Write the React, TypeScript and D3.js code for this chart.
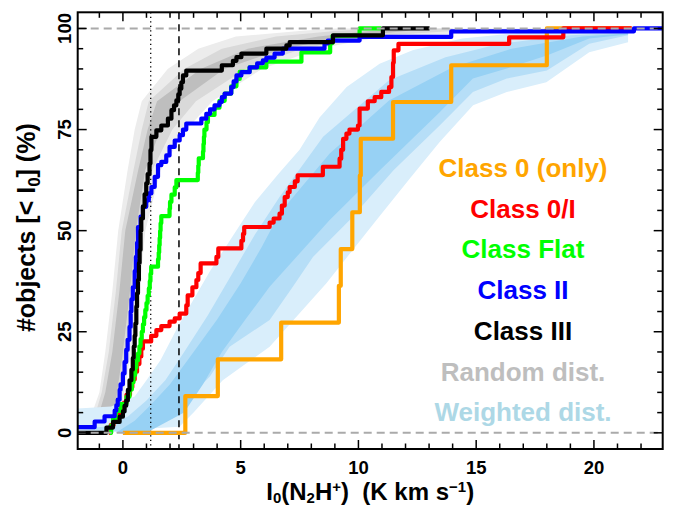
import React from 'react';
import * as d3 from 'd3';

const W = 676;
const H = 506;
const FONT = "'Liberation Sans', Arial, Helvetica, sans-serif";

// ---------- axes ----------
const xDomain = [-1.92, 22.92];
const yDomain = [-4, 104];
const xTickLabels = [0, 5, 10, 15, 20];
const yTickLabels = [0, 25, 50, 75, 100];
const xMinorTicks = d3.range(-1, 23, 1);
const yMinorTicks = d3.range(0, 101, 5);
const refLinesX = [1.18, 2.38]; // dotted, dashed
const refLinesY = [0, 100];

// ---------- cumulative curves (x = I0, y = % of objects) ----------
const class0X = [0, 2.65, 4.03, 6.72, 9.17, 9.25, 9.74, 10.06, 10.1, 11.47, 13.94, 18.0, 21.6];
const class0Y = [0, 9.09, 18.18, 27.27, 36.36, 45.45, 54.55, 63.64, 72.73, 81.82, 90.91, 100, 100];

const class0IX = [-0.6, -0.52, -0.4, -0.15, 0.05, 0.15, 0.3, 0.4, 0.5, 0.6, 0.7, 0.78, 0.85, 1.2, 1.42, 1.63, 1.98, 2.2, 2.41, 2.69, 2.75, 2.95, 3.12, 3.2, 3.3, 3.97, 4.05, 5.03, 5.1, 5.15, 6.23, 6.4, 6.65, 6.75, 6.87, 7.0, 7.08, 7.3, 7.42, 8.49, 9.2, 9.27, 9.35, 9.49, 9.62, 9.98, 10.05, 10.4, 10.69, 10.97, 11.3, 11.4, 11.47, 11.5, 11.7, 16.4, 18.7, 21.6];
const class0IY = [0, 1.9, 3.8, 5.7, 7.5, 9.4, 11.3, 13.2, 15.1, 17.0, 18.9, 20.8, 22.6, 24.0, 25.4, 26.4, 27.5, 28.3, 29.5, 31.5, 34.0, 36.0, 37.8, 39.5, 41.9, 43.5, 45.6, 47.5, 49.2, 50.9, 52.0, 53.0, 54.2, 56.2, 58.3, 59.5, 60.8, 62.2, 63.7, 65.8, 67.8, 70.0, 72.7, 74.0, 75.0, 76.0, 80.2, 82.0, 83.0, 84.3, 85.5, 88.0, 91.5, 94.6, 96.2, 97.8, 100, 100];

const classFlatX = [-0.56, -0.5, -0.42, -0.3, -0.1, 0.15, 0.28, 0.38, 0.45, 0.52, 0.57, 0.64, 0.7, 0.75, 0.8, 0.85, 0.9, 0.95, 1.0, 1.05, 1.1, 1.14, 1.17, 1.2, 1.49, 1.52, 1.54, 1.56, 1.58, 1.6, 1.63, 1.98, 2.0, 2.06, 2.2, 2.27, 3.18, 3.2, 3.22, 3.4, 3.42, 3.44, 3.46, 3.55, 3.61, 3.89, 4.1, 4.32, 4.6, 4.82, 4.96, 5.38, 6.09, 7.58, 8.8, 8.9, 10.05, 10.97];
const classFlatY = [0, 1.8, 3.6, 5.4, 7.1, 8.9, 10.7, 12.5, 14.3, 16.1, 17.9, 19.6, 21.4, 23.2, 25.0, 26.8, 28.6, 30.4, 32.1, 33.9, 35.7, 37.5, 39.3, 41.1, 42.9, 44.6, 46.4, 48.2, 50.0, 51.8, 53.6, 55.4, 57.1, 58.9, 60.7, 62.5, 64.3, 66.1, 67.9, 69.6, 71.4, 73.2, 75.0, 76.8, 78.6, 80.4, 82.1, 83.9, 85.7, 87.5, 89.3, 90.4, 91.8, 94.1, 96.4, 98.2, 100, 100];

const classIIX = [-1.92, -1.2, -0.78, -0.35, -0.28, -0.22, -0.14, -0.1, 0.0, 0.07, 0.14, 0.2, 0.28, 0.33, 0.36, 0.42, 0.5, 0.55, 0.6, 0.64, 0.75, 0.85, 0.99, 1.1, 1.21, 1.35, 1.49, 1.63, 1.84, 1.98, 2.2, 2.41, 2.55, 2.69, 3.33, 3.54, 3.7, 3.89, 4.1, 4.2, 4.32, 4.6, 4.7, 4.82, 5.03, 5.38, 5.7, 5.94, 6.09, 6.44, 6.79, 8.56, 8.7, 10.05, 13.94, 21.7, 22.92];
const classIIY = [1.4, 2.8, 4.1, 5.5, 6.8, 8.2, 10.6, 12.0, 14.7, 17.5, 20.5, 23.0, 26.2, 30.0, 33.0, 36.0, 40.0, 43.5, 47.0, 50.9, 53.5, 55.9, 57.5, 59.2, 60.8, 63.3, 66.2, 67.0, 68.6, 70.7, 72.3, 73.6, 75.0, 76.5, 77.7, 78.9, 80.0, 81.0, 81.8, 83.0, 83.9, 85.5, 86.9, 88.4, 89.2, 90.4, 91.4, 92.1, 92.8, 93.8, 95.0, 96.3, 97.0, 97.9, 99.3, 100, 100];

const classIIIX = [-1.92, -0.7, -0.42, -0.14, 0.0, 0.07, 0.14, 0.21, 0.28, 0.36, 0.42, 0.46, 0.5, 0.53, 0.57, 0.6, 0.64, 0.68, 0.71, 0.75, 0.78, 0.85, 0.92, 0.99, 1.05, 1.13, 1.17, 1.21, 1.42, 1.63, 1.91, 2.06, 2.17, 2.27, 2.35, 2.41, 2.48, 2.55, 2.69, 4.2, 4.67, 4.82, 5.03, 6.09, 6.94, 7.08, 8.92, 11.04, 13.02];
const classIIIY = [0, 1.3, 2.7, 4.0, 5.3, 6.7, 8.0, 10.6, 13.0, 15.6, 18.5, 21.3, 24.0, 27.0, 31.2, 34.5, 37.8, 42.0, 45.2, 50.0, 53.0, 56.0, 59.0, 61.7, 64.0, 66.6, 69.9, 73.2, 74.8, 76.0, 77.7, 79.8, 81.0, 82.2, 83.7, 85.1, 86.7, 88.4, 89.6, 90.9, 92.0, 92.9, 93.8, 95.0, 95.8, 96.6, 98.3, 100, 100];

// ---------- random distribution envelopes (gray) ----------
const randLevels = [0, 5, 10, 20, 35, 50, 65, 75, 82, 90, 95, 98, 99.4, 100];
const randLightUpper = [-1.92, -1.3, -1.0, -0.75, -0.45, -0.2, 0.2, 0.5, 0.8, 1.9, 3.2, 4.8, 7.5, 9.0];
const randMidUpper = [-1.92, -1.15, -0.9, -0.6, -0.3, -0.05, 0.45, 0.8, 1.1, 2.6, 4.2, 6.5, 9.0, 11.0];
const randDarkUpper = [-1.92, -1.0, -0.75, -0.45, -0.15, 0.1, 0.65, 1.05, 1.45, 3.3, 5.3, 8.3, 10.5, 12.0];
const randDarkLower = [-0.7, -0.35, -0.25, 0.0, 0.3, 0.55, 0.95, 1.6, 2.4, 4.3, 6.8, 9.6, 12.0, 12.5];
const randMidLower = [-0.55, -0.2, -0.1, 0.15, 0.5, 0.75, 1.25, 2.1, 3.1, 5.2, 7.6, 10.4, 14.0, 14.0];
const randLightLower = [-0.4, -0.05, 0.05, 0.35, 0.7, 0.95, 1.6, 2.7, 3.8, 5.9, 8.3, 11.0, 18.0, 18.0];

// ---------- weighted distribution envelopes (blue) ----------
const wLightUpperX = [-1.92, -1.92, -0.5, 0.5, 1.0, 1.6, 2.4, 3.0, 3.7, 4.7, 5.6, 6.6, 7.5, 8.35, 9.5, 10.9, 12.3, 14.4, 17.0, 21.45];
const wLightUpperY = [0, 6, 6.5, 9, 13, 18, 27, 33, 40, 49, 57, 64, 70, 78, 85.5, 91.3, 94.6, 97.5, 99.0, 99.5];
const wLightLowerX = [-1.92, 2.4, 3.0, 4.24, 5.2, 6.23, 8.64, 10.76, 12.2, 13.45, 14.87, 16.3, 17.98, 19.8, 21.45];
const wLightLowerY = [0, 1.5, 5, 13, 17, 21.3, 37, 52.6, 63, 71.9, 81, 84.3, 86.7, 94.1, 96.6];
const wMidUpperX = [-1.92, -0.8, 0.2, 1.0, 1.8, 2.6, 3.6, 4.6, 5.6, 6.65, 8.5, 11.3, 13.7, 16.0, 19.0, 21.45];
const wMidUpperY = [1, 1.5, 4, 8, 13, 20, 29, 39, 49, 58.3, 73.2, 87.2, 92.9, 96.2, 98.3, 99.0];
const wMidLowerX = [0.3, 2.2, 3.7, 4.53, 6.23, 7.2, 8.07, 9.62, 11.5, 13.45, 14.86, 16.3, 18.0, 19.8, 21.45];
const wMidLowerY = [0, 5, 14, 21.3, 27.9, 36, 43.5, 52.6, 65, 76, 84.3, 87.6, 89.6, 96.2, 98.3];
const wDarkUpperX = [-0.3, 0.5, 1.2, 2.0, 3.0, 4.0, 5.0, 5.9, 6.65, 8.78, 11.3, 14.0, 16.5, 19.5, 21.45];
const wDarkUpperY = [0, 3, 7, 12, 20, 28, 37, 46, 54.3, 69.1, 82.2, 90.4, 95.0, 98.0, 98.8];
const wDarkLowerX = [1.0, 2.6, 3.4, 4.2, 5.2, 6.23, 8.77, 10.9, 13.45, 14.86, 16.3, 18.0, 19.8, 21.45];
const wDarkLowerY = [0, 5, 12, 20, 28, 36.1, 52.6, 64.9, 79.3, 87.6, 90.1, 93.3, 97.5, 98.5];

// ---------- legend ----------
const legendLabels = ['Class 0 (only)', 'Class 0/I', 'Class Flat', 'Class II', 'Class III', 'Random dist.', 'Weighted dist.'];
const legendColors = ['#FFA500', '#FF0000', '#00FF00', '#0000FF', '#000000', '#BEBEBE', '#ADD8E6'];

const curveColors = ['#FFA500', '#FF0000', '#00FF00', '#0000FF', '#000000'];
const grayFills = ['#ececec', '#d9d9d9', '#bebebe'];
const blueFills = ['#d9eefb', '#b6def7', '#97d1f4'];

const zip = (xs: number[], ys: number[]): [number, number][] => xs.map((v, i) => [v, ys[i]]);

export default function App() {
  const left = 77.7, right = 662.7, top = 12.3, bottom = 449;
  const x = d3.scaleLinear().domain(xDomain).range([left, right]);
  const y = d3.scaleLinear().domain(yDomain).range([bottom, top]);

  const stepLine = d3.line<[number, number]>().x(d => x(d[0])).y(d => y(d[1])).curve(d3.curveStepAfter);
  const polyLine = d3.line<[number, number]>().x(d => x(d[0])).y(d => y(d[1]));
  const band = (upper: [number, number][], lower: [number, number][]) =>
    (polyLine(upper.concat(lower.slice().reverse())) || '') + 'Z';

  const grayBands = [
    band(zip(randLightUpper, randLevels), zip(randLightLower, randLevels)),
    band(zip(randMidUpper, randLevels), zip(randMidLower, randLevels)),
    band(zip(randDarkUpper, randLevels), zip(randDarkLower, randLevels)),
  ];
  const blueBands = [
    band(zip(wLightUpperX, wLightUpperY), zip(wLightLowerX, wLightLowerY)),
    band(zip(wMidUpperX, wMidUpperY), zip(wMidLowerX, wMidLowerY)),
    band(zip(wDarkUpperX, wDarkUpperY), zip(wDarkLowerX, wDarkLowerY)),
  ];
  const curves = [
    zip(class0X, class0Y),
    zip(class0IX, class0IY),
    zip(classFlatX, classFlatY),
    zip(classIIX, classIIY),
    zip(classIIIX, classIIIY),
  ];

  const tickFont = 18.5;
  const cx = (left + right) / 2;
  const cy = (top + bottom) / 2;

  return (
    <svg width={W} height={H} style={{ position: 'absolute', left: 0, top: 0, background: '#fff' }} fontFamily={FONT}>
      <defs>
        <clipPath id="plotclip">
          <rect x={left} y={top} width={right - left} height={bottom - top} />
        </clipPath>
      </defs>
      <rect x={0} y={0} width={W} height={H} fill="#fff" />
      <g clipPath="url(#plotclip)">
        {grayBands.map((d, i) => <path key={'g' + i} d={d} fill={grayFills[i]} stroke="none" />)}
        {blueBands.map((d, i) => <path key={'b' + i} d={d} fill={blueFills[i]} stroke="none" />)}
        <line x1={x(refLinesX[0])} x2={x(refLinesX[0])} y1={top} y2={bottom} stroke="#000" strokeWidth={1.3} strokeDasharray="1.3 3.2" />
        <line x1={x(refLinesX[1])} x2={x(refLinesX[1])} y1={top} y2={bottom} stroke="#000" strokeWidth={1.5} strokeDasharray="7 5" />
        {curves.map((c, i) => (
          <path key={'c' + i} d={stepLine(c) || ''} fill="none" stroke={curveColors[i]} strokeWidth={4.2} strokeLinejoin="round" strokeLinecap="butt" />
        ))}
        {refLinesY.map((v, i) => (
          <line key={'h' + i} x1={left} x2={right} y1={y(v)} y2={y(v)} stroke="#aaaaaa" strokeWidth={2} strokeDasharray="8 5" />
        ))}
      </g>
      {/* frame */}
      <rect x={left} y={top} width={right - left} height={bottom - top} fill="none" stroke="#000" strokeWidth={2} />
      {/* x ticks (bottom & top, inward) */}
      {xMinorTicks.map(t => {
        const len = t % 5 === 0 ? 9 : 5.5;
        return (
          <g key={'xt' + t}>
            <line x1={x(t)} x2={x(t)} y1={bottom} y2={bottom - len} stroke="#000" strokeWidth={1.5} />
            <line x1={x(t)} x2={x(t)} y1={top} y2={top + len} stroke="#000" strokeWidth={1.5} />
          </g>
        );
      })}
      {yMinorTicks.map(t => {
        const len = t % 25 === 0 ? 9 : 5.5;
        return (
          <g key={'yt' + t}>
            <line x1={left} x2={left + len} y1={y(t)} y2={y(t)} stroke="#000" strokeWidth={1.5} />
            <line x1={right} x2={right - len} y1={y(t)} y2={y(t)} stroke="#000" strokeWidth={1.5} />
          </g>
        );
      })}
      {xTickLabels.map(t => (
        <text key={'xl' + t} x={x(t)} y={474} textAnchor="middle" fontSize={tickFont} fontWeight="bold">{t}</text>
      ))}
      {yTickLabels.map(t => (
        <text key={'yl' + t} transform={`translate(70.5,${y(t)}) rotate(-90)`} textAnchor="middle" fontSize={tickFont} fontWeight="bold">{t}</text>
      ))}
      {/* axis titles */}
      <text x={cx} y={500} textAnchor="middle" fontSize={24} fontWeight="bold" style={{ whiteSpace: 'pre' }}>
        I<tspan dy={2.5} fontSize={15}>0</tspan><tspan dy={-2.5}>(N</tspan><tspan dy={2.5} fontSize={15}>2</tspan><tspan dy={-2.5}>H</tspan><tspan dy={-8} fontSize={15}>+</tspan><tspan dy={8}>)  (K km s</tspan><tspan dy={-8} fontSize={15}>−1</tspan><tspan dy={8}>)</tspan>
      </text>
      <text transform={`translate(35,${cy - 3}) rotate(-90)`} textAnchor="middle" fontSize={25} fontWeight="bold" style={{ whiteSpace: 'pre' }}>
        #objects [&lt; I<tspan dy={5} fontSize={17}>0</tspan><tspan dy={-5}>] (%)</tspan>
      </text>
      {/* legend */}
      {legendLabels.map((l, i) => (
        <text key={'lg' + i} x={523} y={177 + 40.7 * i} textAnchor="middle" fontSize={26} fontWeight="bold" fill={legendColors[i]}>{l}</text>
      ))}
    </svg>
  );
}
